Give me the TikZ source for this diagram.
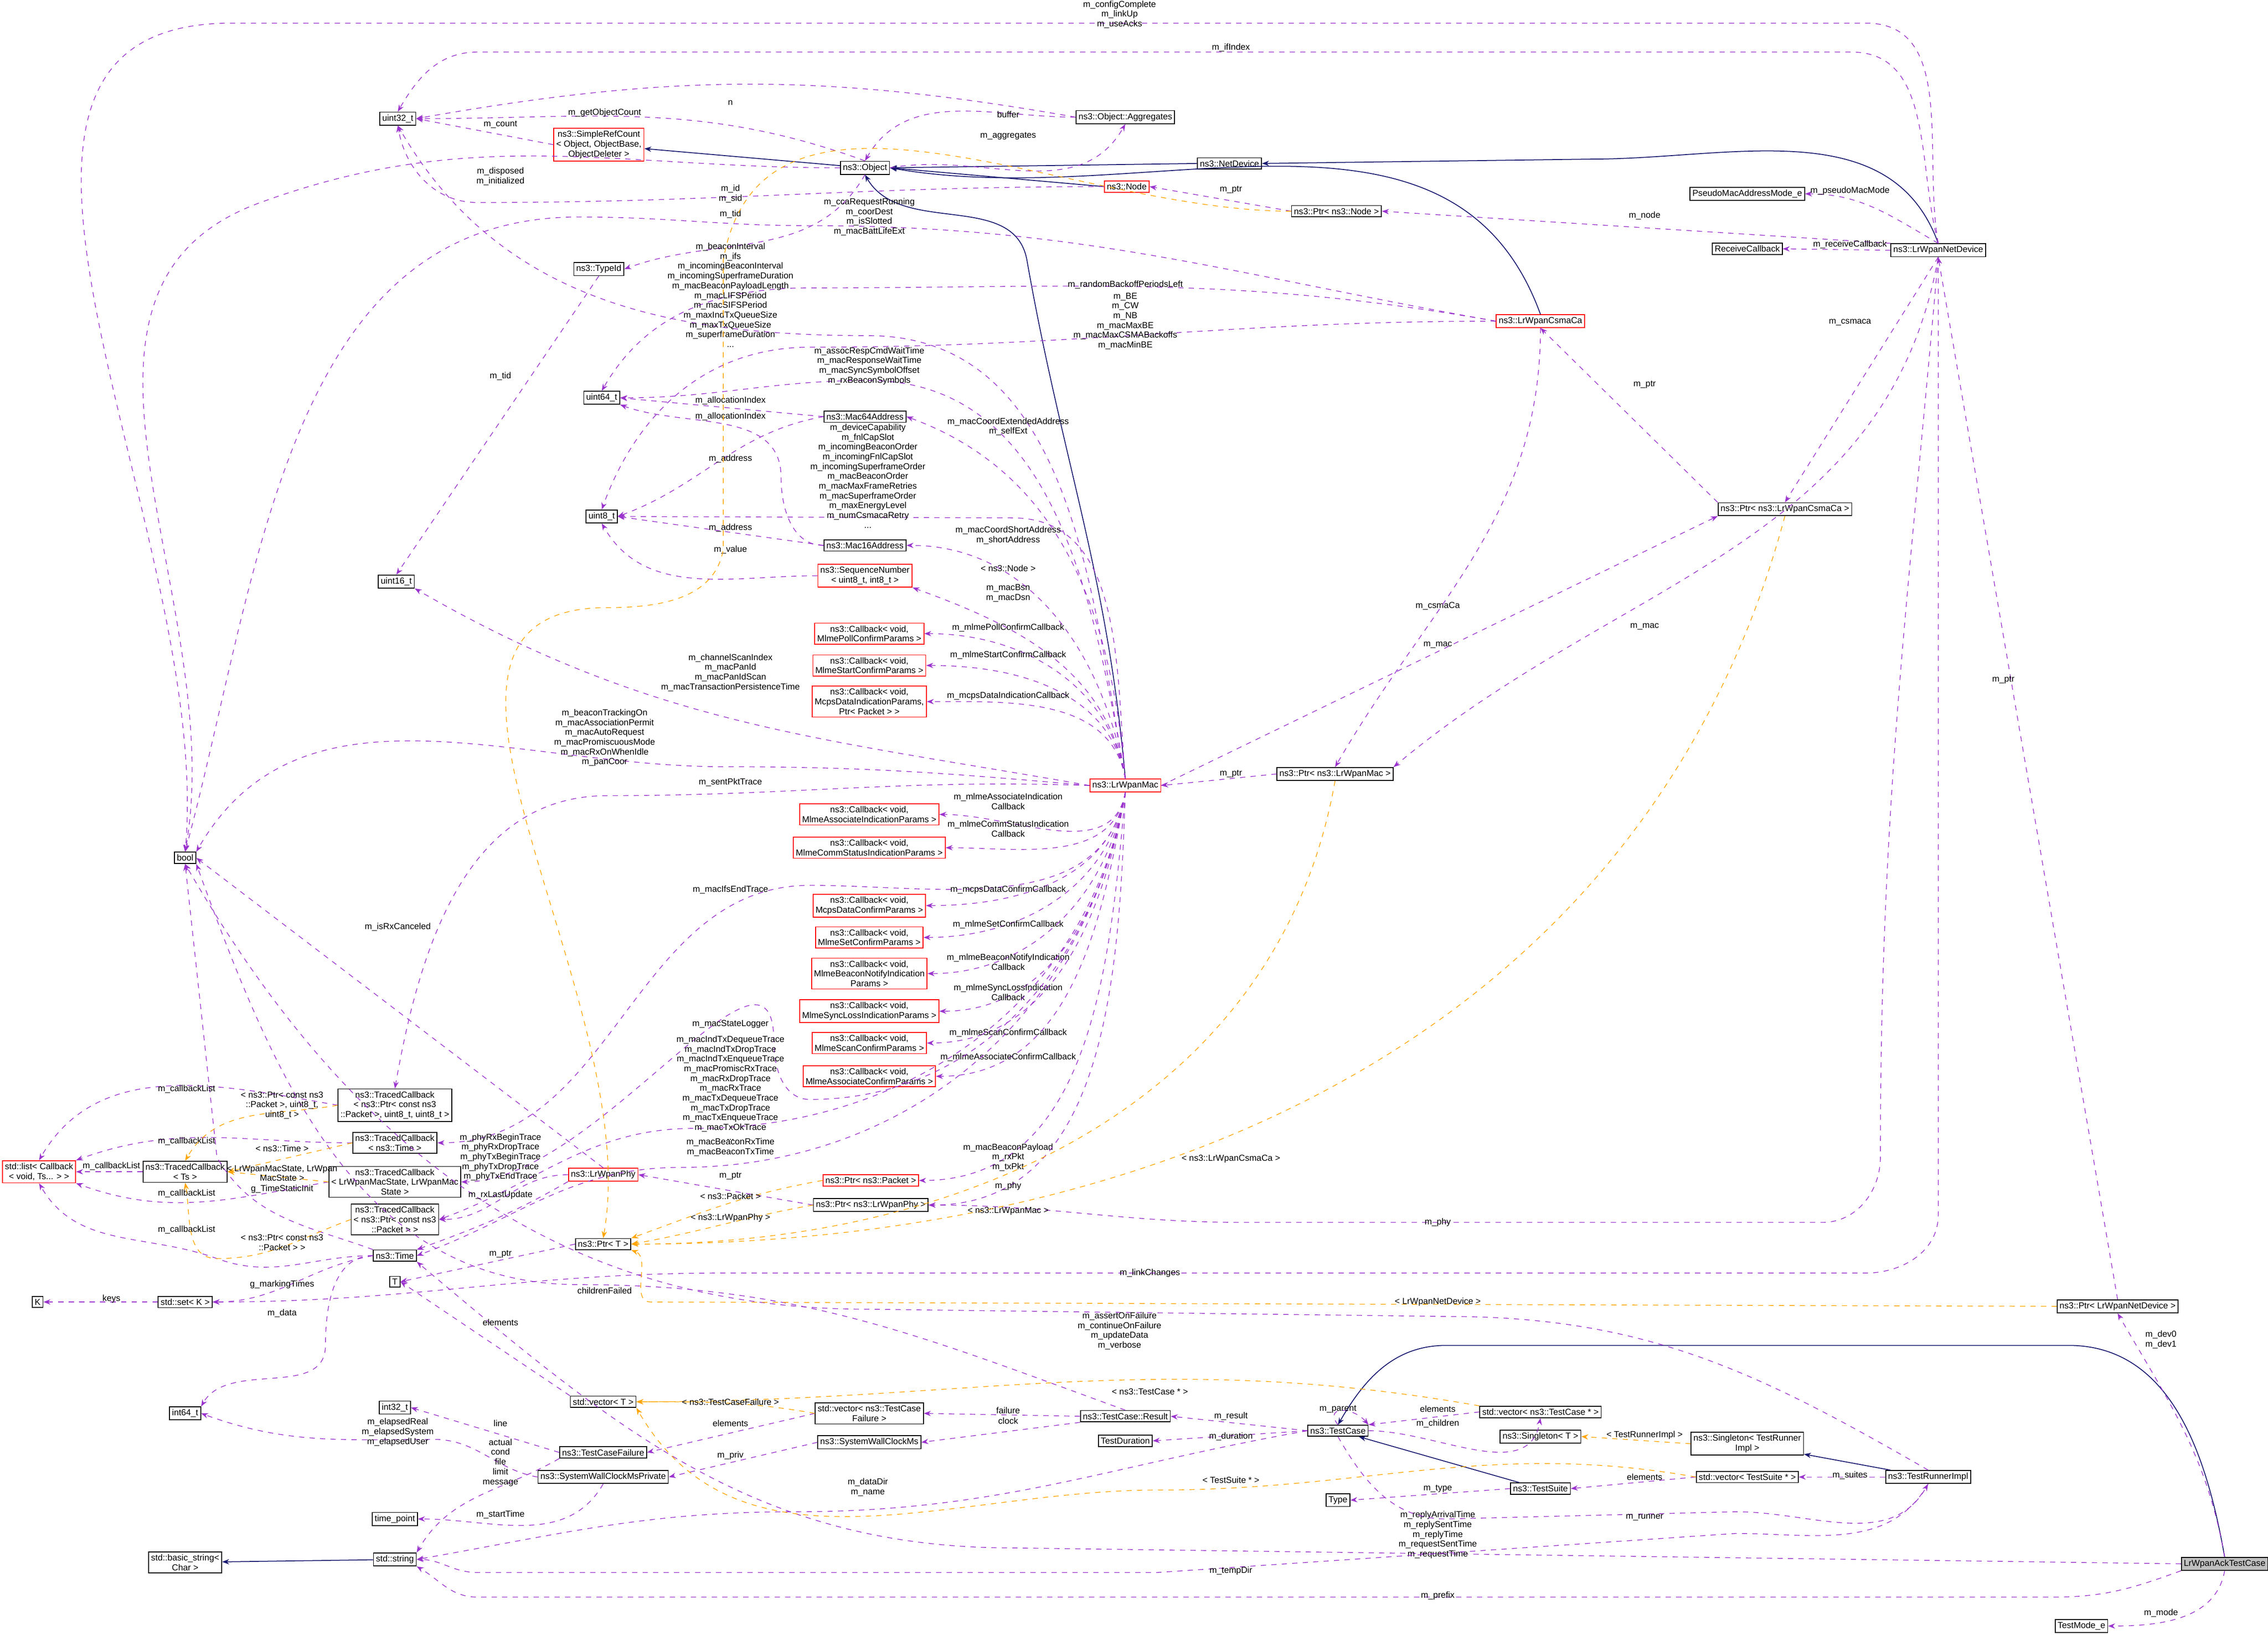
\documentclass[tikz,border=0pt]{standalone}
\usepackage{fontspec}
\setmainfont{Liberation Sans}
\usetikzlibrary{arrows.meta}
\definecolor{pur}{HTML}{9A32CD}
\definecolor{org}{HTML}{FFA500}
\definecolor{nav}{HTML}{191970}
\tikzset{
 bx/.style={draw=black,fill=white,font=\fontsize{5}{5.6}\selectfont,align=center,inner sep=1.4pt,line width=0.5pt},
 rbx/.style={bx,draw=red},
 lb/.style={font=\fontsize{5}{5.6}\selectfont,align=center,inner sep=0.5pt},
 mem/.style={draw=pur,dashed,line width=0.4pt,-{Stealth[length=4pt,width=3pt]}},
 tpl/.style={draw=org,dashed,line width=0.4pt,-{Stealth[length=4pt,width=3pt]}},
 inh/.style={draw=nav,line width=0.5pt,-{Stealth[length=4pt,width=3pt]}}
}
\begin{document}
\begin{tikzpicture}[x=0.0291cm,y=-0.0291cm]
\useasboundingbox (0,0) rectangle (1568,1130);
% nodes
\node[bx] (u32) at (275,82) {uint32\_t};
\node[rbx] (src) at (414,100) {ns3::SimpleRefCount\\< Object, ObjectBase,\\ ObjectDeleter >};
\node[bx] (obj) at (598,116) {ns3::Object};
\node[bx] (agg) at (778,81) {ns3::Object::Aggregates};
\node[bx] (ndev) at (850,113) {ns3::NetDevice};
\node[rbx] (node) at (779,129) {ns3::Node};
\node[bx] (pnode) at (924,146) {ns3::Ptr< ns3::Node >};
\node[bx] (pseudo) at (1208,134) {PseudoMacAddressMode\_e};
\node[bx] (rcb) at (1208,172) {ReceiveCallback};
\node[bx] (lnd) at (1340,173) {ns3::LrWpanNetDevice};
\node[bx] (tid) at (414,186) {ns3::TypeId};
\node[rbx] (csma) at (1065,222) {ns3::LrWpanCsmaCa};
\node[bx] (u64) at (416,275) {uint64\_t};
\node[bx] (m64) at (598,288) {ns3::Mac64Address};
\node[bx] (u8) at (416,357) {uint8\_t};
\node[bx] (m16) at (598,377) {ns3::Mac16Address};
\node[bx] (pcsma) at (1234,352) {ns3::Ptr< ns3::LrWpanCsmaCa >};
\node[rbx] (seq) at (598,398) {ns3::SequenceNumber\\< uint8\_t, int8\_t >};
\node[bx] (u16) at (274,402) {uint16\_t};
\node[rbx] (c1) at (601,438) {ns3::Callback< void,\\ MlmePollConfirmParams >};
\node[rbx] (c2) at (601,460) {ns3::Callback< void,\\ MlmeStartConfirmParams >};
\node[rbx] (c3) at (601,485) {ns3::Callback< void,\\ McpsDataIndicationParams,\\ Ptr< Packet > >};
\node[rbx] (mac) at (778,543) {ns3::LrWpanMac};
\node[bx] (pmac) at (923,535) {ns3::Ptr< ns3::LrWpanMac >};
\node[rbx] (c4) at (601,563) {ns3::Callback< void,\\ MlmeAssociateIndicationParams >};
\node[rbx] (c5) at (601,586) {ns3::Callback< void,\\ MlmeCommStatusIndicationParams >};
\node[bx] (bool) at (128,593) {bool};
\node[rbx] (c6) at (601,626) {ns3::Callback< void,\\ McpsDataConfirmParams >};
\node[rbx] (c7) at (601,648) {ns3::Callback< void,\\ MlmeSetConfirmParams >};
\node[rbx] (c8) at (601,673) {ns3::Callback< void,\\ MlmeBeaconNotifyIndication\\Params >};
\node[rbx] (c9) at (601,699) {ns3::Callback< void,\\ MlmeSyncLossIndicationParams >};
\node[rbx] (c10) at (601,721) {ns3::Callback< void,\\ MlmeScanConfirmParams >};
\node[rbx] (c11) at (601,744) {ns3::Callback< void,\\ MlmeAssociateConfirmParams >};
\node[bx] (tc3) at (273,764) {ns3::TracedCallback\\< ns3::Ptr< const ns3\\::Packet >, uint8\_t, uint8\_t >};
\node[bx] (tctime) at (273,790) {ns3::TracedCallback\\< ns3::Time >};
\node[rbx] (slist) at (27,810) {std::list< Callback\\< void, Ts... > >};
\node[bx] (tcts) at (128,810) {ns3::TracedCallback\\< Ts >};
\node[bx] (tcst) at (273,817) {ns3::TracedCallback\\< LrWpanMacState, LrWpanMac\\State >};
\node[rbx] (phy) at (417,812) {ns3::LrWpanPhy};
\node[rbx] (ppkt) at (602,816) {ns3::Ptr< ns3::Packet >};
\node[bx] (pphy) at (602,833) {ns3::Ptr< ns3::LrWpanPhy >};
\node[bx] (tcpk) at (273,843) {ns3::TracedCallback\\< ns3::Ptr< const ns3\\::Packet > >};
\node[bx] (pt) at (417,860) {ns3::Ptr< T >};
\node[bx] (time) at (273,868) {ns3::Time};
\node[bx] (T) at (273,886) {T};
\node[bx] (K) at (26,900) {K};
\node[bx] (sset) at (128,900) {std::set< K >};
\node[bx] (plnd) at (1464,903) {ns3::Ptr< LrWpanNetDevice >};
\node[bx] (vt) at (417,969) {std::vector< T >};
\node[bx] (vtcf) at (601,977) {std::vector< ns3::TestCase\\Failure >};
\node[bx] (res) at (778,979) {ns3::TestCase::Result};
\node[bx] (i32) at (273,973) {int32\_t};
\node[bx] (i64) at (128,977) {int64\_t};
\node[bx] (tcase) at (925,989) {ns3::TestCase};
\node[bx] (vtc) at (1065,976) {std::vector< ns3::TestCase * >};
\node[bx] (singT) at (1065,993) {ns3::Singleton< T >};
\node[bx] (singR) at (1208,998) {ns3::Singleton< TestRunner\\Impl >};
\node[bx] (tdur) at (778,996) {TestDuration};
\node[bx] (swc) at (601,997) {ns3::SystemWallClockMs};
\node[bx] (tcf) at (417,1004) {ns3::TestCaseFailure};
\node[bx] (swcp) at (417,1021) {ns3::SystemWallClockMsPrivate};
\node[bx] (vts) at (1208,1021) {std::vector< TestSuite * >};
\node[bx] (tri) at (1333,1021) {ns3::TestRunnerImpl};
\node[bx] (tsuite) at (1065,1029) {ns3::TestSuite};
\node[bx] (type) at (925,1037) {Type};
\node[bx] (tpt) at (273,1050) {time\_point};
\node[bx] (bstr) at (128,1080) {std::basic\_string<\\ Char >};
\node[bx] (str) at (273,1078) {std::string};
\node[bx,fill=black!25] (ack) at (1538,1081) {LrWpanAckTestCase};
\node[bx] (tmode) at (1439,1124) {TestMode\_e};

% inheritance
\draw[inh] (obj) -- (src);
\draw[inh] (node.west) -- (obj.east);
\draw[inh] (ndev.west) -- (obj.east);
\draw[inh] (csma.north) to[out=110,in=-10] (obj.east);
\draw[inh] (mac.north) to[out=95,in=-80] (710,180) to[out=100,in=-60] (obj.south);
\draw[inh] (lnd.north) to[out=110,in=0] (1100,110) -- (ndev.east);
\draw[inh] (str) -- (bstr);
\draw[inh] (tsuite) -- (tcase);
\draw[inh] (tri) -- (singR);
\draw[inh] (ack.north) to[out=100,in=0] (1430,930) -- (1000,930) to[out=180,in=60] (tcase.north);

% members (purple)
\draw[mem] (lnd.north) to[out=100,in=0] (1290,16) -- (160,16) to[out=180,in=85] (bool.north);
\draw[mem] (lnd.north) to[out=105,in=0] (1280,36) -- (330,36) to[out=180,in=60] (u32.north);
\node[lb] at (774,10) {m\_configComplete\\m\_linkUp\\m\_useAcks};
\node[lb] at (851,33) {m\_ifIndex};
\draw[mem] (agg.west) to[out=170,in=10] (u32.east); \node[lb] at (505,71) {n};
\draw[mem] (obj.north) to[out=160,in=0] (u32.east); \node[lb] at (418,78) {m\_getObjectCount};
\draw[mem] (src.west) -- (u32.east); \node[lb] at (346,86) {m\_count};
\draw[mem] (agg.west) to[out=180,in=60] (obj.north); \node[lb] at (697,79) {buffer};
\draw[mem] (obj.east) to[out=10,in=-120] (agg.south); \node[lb] at (697,94) {m\_aggregates};
\draw[mem] (obj.west) to[out=180,in=20] (180,140) to[out=-160,in=80] (bool.north); \node[lb] at (346,122) {m\_disposed\\m\_initialized};
\draw[mem] (node.west) to[out=180,in=0] (330,140) to[out=180,in=-80] (u32.south); \node[lb] at (505,134) {m\_id\\m\_sid};
\draw[mem] (obj.south) to[out=-120,in=20] (tid.east);
\draw[mem] (csma.west) to[out=170,in=0] (560,156) to[out=180,in=0] (400,150) to[out=180,in=75] (bool.north);
\node[lb] at (505,148) {m\_tid};
\node[lb] at (601,150) {m\_ccaRequestRunning\\m\_coorDest\\m\_isSlotted\\m\_macBattLifeExt};
\draw[mem] (tid.south) -- (u16.north); \node[lb] at (346,260) {m\_tid};
\draw[mem] (csma.west) to[out=170,in=0] (560,199) to[out=180,in=60] (u64.north); \node[lb] at (778,197) {m\_randomBackoffPeriodsLeft};
\draw[mem] (csma.west) to[out=180,in=0] (560,240) to[out=180,in=70] (u8.north); \node[lb] at (778,222) {m\_BE\\m\_CW\\m\_NB\\m\_macMaxBE\\m\_macMaxCSMABackoffs\\m\_macMinBE};
\draw[mem] (mac.north) to[out=100,in=0] (600,232) to[out=180,in=-60] (u32.south);
\node[lb] at (505,204) {m\_beaconInterval\\m\_ifs\\m\_incomingBeaconInterval\\m\_incomingSuperframeDuration\\m\_macBeaconPayloadLength\\m\_macLIFSPeriod\\m\_macSIFSPeriod\\m\_maxIndTxQueueSize\\m\_maxTxQueueSize\\m\_superframeDuration\\...};
\draw[mem] (mac.north) to[out=100,in=0] (600,263) to[out=180,in=0] (u64.east); \node[lb] at (601,253) {m\_assocRespCmdWaitTime\\m\_macResponseWaitTime\\m\_macSyncSymbolOffset\\m\_rxBeaconSymbols};
\draw[mem] (m64.west) -- (u64.east); \node[lb] at (505,277) {m\_allocationIndex};
\draw[mem] (m16.west) to[out=180,in=-90] (540,330) to[out=90,in=-20] (u64.south east); \node[lb] at (505,288) {m\_allocationIndex};
\draw[mem] (m64.west) to[out=190,in=20] (u8.east); \node[lb] at (505,317) {m\_address};
\draw[mem] (mac.north) to[out=95,in=-20] (m64.east); \node[lb] at (697,295) {m\_macCoordExtendedAddress\\m\_selfExt};
\draw[mem] (mac.north) to[out=95,in=0] (700,358) -- (u8.east);
\node[lb] at (600,329) {m\_deviceCapability\\m\_fnlCapSlot\\m\_incomingBeaconOrder\\m\_incomingFnlCapSlot\\m\_incomingSuperframeOrder\\m\_macBeaconOrder\\m\_macMaxFrameRetries\\m\_macSuperframeOrder\\m\_maxEnergyLevel\\m\_numCsmacaRetry\\...};
\draw[mem] (m16.west) -- (u8.east); \node[lb] at (505,365) {m\_address};
\draw[mem] (seq.west) to[out=180,in=-60] (u8.south); \node[lb] at (505,380) {m\_value};
\draw[mem] (mac.north) to[out=100,in=0] (m16.east); \node[lb] at (697,370) {m\_macCoordShortAddress\\m\_shortAddress};
\draw[mem] (mac.north) to[out=100,in=-20] (seq.south east); \node[lb] at (697,410) {m\_macBsn\\m\_macDsn};
\draw[mem] (mac.west) to[out=170,in=-30] (u16.south east); \node[lb] at (505,465) {m\_channelScanIndex\\m\_macPanId\\m\_macPanIdScan\\m\_macTransactionPersistenceTime};
\draw[mem] (mac.north) to[out=100,in=0] (c1.east); \node[lb] at (697,434) {m\_mlmePollConfirmCallback};
\draw[mem] (mac.north) to[out=100,in=0] (c2.east); \node[lb] at (697,453) {m\_mlmeStartConfirmCallback};
\draw[mem] (mac.north) to[out=100,in=0] (c3.east); \node[lb] at (697,481) {m\_mcpsDataIndicationCallback};
\draw[mem] (mac.west) to[out=175,in=0] (500,530) to[out=180,in=60] (bool.north east); \node[lb] at (418,510) {m\_beaconTrackingOn\\m\_macAssociationPermit\\m\_macAutoRequest\\m\_macPromiscuousMode\\m\_macRxOnWhenIdle\\m\_panCoor};
\draw[mem] (mac.west) to[out=178,in=0] (420,550) to[out=180,in=80] (tc3.north); \node[lb] at (505,541) {m\_sentPktTrace};
\draw[mem] (mac.south) to[out=-100,in=0] (c4.east); \node[lb] at (697,554) {m\_mlmeAssociateIndication\\Callback};
\draw[mem] (mac.south) to[out=-100,in=0] (c5.east); \node[lb] at (697,573) {m\_mlmeCommStatusIndication\\Callback};
\draw[mem] (mac.south) to[out=-100,in=0] (560,612) to[out=180,in=0] (tctime.east); \node[lb] at (505,615) {m\_macIfsEndTrace};
\draw[mem] (mac.south) to[out=-100,in=0] (c6.east); \node[lb] at (697,615) {m\_mcpsDataConfirmCallback};
\draw[mem] (mac.south) to[out=-100,in=0] (c7.east); \node[lb] at (697,639) {m\_mlmeSetConfirmCallback};
\draw[mem] (mac.south) to[out=-100,in=0] (c8.east); \node[lb] at (697,665) {m\_mlmeBeaconNotifyIndication\\Callback};
\draw[mem] (mac.south) to[out=-100,in=0] (c9.east); \node[lb] at (697,686) {m\_mlmeSyncLossIndication\\Callback};
\draw[mem] (mac.south) to[out=-100,in=0] (c10.east); \node[lb] at (697,714) {m\_mlmeScanConfirmCallback};
\draw[mem] (mac.south) to[out=-100,in=0] (c11.east); \node[lb] at (697,731) {m\_mlmeAssociateConfirmCallback};
\draw[mem] (mac.south) to[out=-100,in=0] (560,760) to[out=180,in=-90] (535,720) to[out=90,in=0] (tcst.east); \node[lb] at (505,708) {m\_macStateLogger};
\draw[mem] (mac.south) to[out=-100,in=0] (480,780) to[out=180,in=20] (tcpk.east);
\node[lb] at (505,752) {m\_macIndTxDequeueTrace\\m\_macIndTxDropTrace\\m\_macIndTxEnqueueTrace\\m\_macPromiscRxTrace\\m\_macRxDropTrace\\m\_macRxTrace\\m\_macTxDequeueTrace\\m\_macTxDropTrace\\m\_macTxEnqueueTrace\\m\_macTxOkTrace\\...};
\draw[mem] (mac.south) to[out=-100,in=0] (470,807) to[out=180,in=20] (time.east); \node[lb] at (505,793) {m\_macBeaconRxTime\\m\_macBeaconTxTime};
\draw[mem] (mac.south) to[out=-95,in=0] (ppkt.east); \node[lb] at (697,800) {m\_macBeaconPayload\\m\_rxPkt\\m\_txPkt};
\draw[mem] (mac.south) to[out=-92,in=0] (pphy.east); \node[lb] at (697,820) {m\_phy};
\draw[mem] (mac.east) -- (pcsma.south west); \node[lb] at (994,419) {m\_csmaCa};
\draw[mem] (csma.south) to[out=-90,in=60] (pmac.north); \node[lb] at (994,446) {m\_mac};
\draw[mem] (lnd.south) to[out=-100,in=40] (pmac.north east); \node[lb] at (1137,433) {m\_mac};
\draw[mem] (lnd.south) -- (pcsma.north); \node[lb] at (1279,223) {m\_csmaca};
\draw[mem] (pcsma.north west) -- (csma.south); \node[lb] at (1137,266) {m\_ptr};
\draw[mem] (pmac.west) -- (mac.east); \node[lb] at (851,535) {m\_ptr};
\draw[mem] (pnode.west) -- (node.east); \node[lb] at (851,131) {m\_ptr};
\draw[mem] (lnd.north west) -- (pnode.east); \node[lb] at (1137,149) {m\_node};
\draw[mem] (lnd.north) to[out=150,in=0] (pseudo.east); \node[lb] at (1279,132) {m\_pseudoMacMode};
\draw[mem] (lnd.west) -- (rcb.east); \node[lb] at (1279,169) {m\_receiveCallback};
\draw[mem] (lnd.south) to[out=-95,in=90] (1300,800) to[out=-90,in=0] (1260,845) -- (860,845) to[out=180,in=0] (pphy.east); \node[lb] at (994,845) {m\_phy};
\draw[mem] (lnd.south) to[out=-90,in=90] (1340,840) to[out=-90,in=0] (1290,880) -- (500,880) to[out=180,in=0] (sset.east); \node[lb] at (795,880) {m\_linkChanges};
\draw[mem] (plnd.north) -- (lnd.south); \node[lb] at (1385,470) {m\_ptr};
\draw[mem] (ack.north) to[out=100,in=-60] (plnd.south); \node[lb] at (1494,926) {m\_dev0\\m\_dev1};
\draw[mem] (ack.south) to[out=-100,in=0] (tmode.east); \node[lb] at (1494,1115) {m\_mode};
\draw[mem] (ack.south west) to[out=-160,in=0] (1420,1104) -- (330,1104) to[out=180,in=-30] (str.south east); \node[lb] at (994,1103) {m\_prefix};
\draw[mem] (ack.west) -- (700,1070) to[out=180,in=-40] (time.south east); \node[lb] at (994,1061) {m\_replyArrivalTime\\m\_replySentTime\\m\_replyTime\\m\_requestSentTime\\m\_requestTime};
\draw[mem] (tri.south) to[out=-120,in=0] (1200,1060) -- (800,1087) -- (330,1087) to[out=180,in=0] (str.east); \node[lb] at (851,1086) {m\_tempDir};
\draw[mem] (tcase.west) to[out=190,in=0] (550,1045) to[out=180,in=10] (str.east); \node[lb] at (600,1028) {m\_dataDir\\m\_name};
\draw[mem] (tri.north) to[out=150,in=0] (1000,910) -- (600,905) to[out=180,in=-60] (bool.south); \node[lb] at (774,920) {m\_assertOnFailure\\m\_continueOnFailure\\m\_updateData\\m\_verbose};
\draw[mem] (tcase.north) .. controls (915,972) and (935,972) .. (tcase.north east); \node[lb] at (925,974) {m\_parent};
\draw[mem] (tcase.east) to[out=0,in=-100] (vtc.south); \node[lb] at (994,984) {m\_children};
\draw[mem] (vtc.west) -- (tcase.north east); \node[lb] at (994,974) {elements};
\draw[mem] (tcase.west) -- (res.east); \node[lb] at (851,979) {m\_result};
\draw[mem] (tcase.west) -- (tdur.east); \node[lb] at (851,993) {m\_duration};
\draw[mem] (tcase.south) to[out=-60,in=180] (1000,1050) -- (1200,1045) to[out=0,in=-120] (tri.south); \node[lb] at (1137,1049) {m\_runner};
\draw[mem] (tsuite.west) -- (type.east); \node[lb] at (994,1029) {m\_type};
\draw[mem] (tri.west) -- (vts.east); \node[lb] at (1279,1020) {m\_suites};
\draw[mem] (vts.west) -- (tsuite.east); \node[lb] at (1137,1021) {elements};
\draw[mem] (res.west) -- (vtcf.east); \node[lb] at (697,975) {failure};
\draw[mem] (res.south west) -- (swc.east); \node[lb] at (697,982) {clock};
\draw[mem] (res.north) to[out=160,in=0] (400,888) to[out=180,in=-70] (bool.south east); \node[lb] at (418,892) {childrenFailed};
\draw[mem] (vtcf.west) -- (tcf.east); \node[lb] at (505,984) {elements};
\draw[mem] (swc.west) -- (swcp.east); \node[lb] at (505,1006) {m\_priv};
\draw[mem] (swcp.west) to[out=170,in=0] (300,995) to[out=180,in=-20] (i64.east); \node[lb] at (275,990) {m\_elapsedReal\\m\_elapsedSystem\\m\_elapsedUser};
\draw[mem] (swcp.south) to[out=-120,in=0] (tpt.east); \node[lb] at (346,1047) {m\_startTime};
\draw[mem] (tcf.west) -- (i32.east); \node[lb] at (346,984) {line};
\draw[mem] (tcf.south west) to[out=-150,in=60] (str.north east); \node[lb] at (346,1011) {actual\\cond\\file\\limit\\message};
\draw[mem] (vt.north west) -- (T.east); \node[lb] at (346,914) {elements};
\draw[mem] (pt.west) -- (T.east); \node[lb] at (346,867) {m\_ptr};
\draw[mem] (time.west) to[out=180,in=90] (225,930) to[out=-90,in=60] (i64.north east); \node[lb] at (195,908) {m\_data};
\draw[mem] (time.west) to[out=190,in=0] (sset.east); \node[lb] at (195,888) {g\_markingTimes};
\draw[mem] (sset.west) -- (K.east); \node[lb] at (77,898) {keys};
\draw[mem] (time.north west) to[out=160,in=-60] (150,800) -- (bool.south); \node[lb] at (195,822) {g\_TimeStaticInit};
\draw[mem] (phy.north) -- (bool.east); \node[lb] at (275,641) {m\_isRxCanceled};
\draw[mem] (phy.west) to[out=180,in=0] (tcpk.east); \node[lb] at (346,800) {m\_phyRxBeginTrace\\m\_phyRxDropTrace\\m\_phyTxBeginTrace\\m\_phyTxDropTrace\\m\_phyTxEndTrace};
\draw[mem] (phy.south west) to[out=-150,in=20] (time.north east); \node[lb] at (346,826) {m\_rxLastUpdate};
\draw[mem] (pphy.west) -- (phy.east); \node[lb] at (505,813) {m\_ptr};
\draw[mem] (tc3.west) to[out=170,in=60] (slist.north); \node[lb] at (129,753) {m\_callbackList};
\draw[mem] (tctime.west) to[out=180,in=20] (slist.north east); \node[lb] at (129,789) {m\_callbackList};
\draw[mem] (tcts.west) -- (slist.east); \node[lb] at (77,806) {m\_callbackList};
\draw[mem] (tcst.west) to[out=190,in=-20] (slist.south east); \node[lb] at (129,825) {m\_callbackList};
\draw[mem] (time.west) to[out=180,in=-20] (150,870) to[out=160,in=-60] (slist.south); \node[lb] at (129,850) {m\_callbackList};

% templates (orange)
\draw[tpl] (tc3.west) to[out=190,in=60] (tcts.north); \node[lb] at (195,764) {< ns3::Ptr< const ns3\\::Packet >, uint8\_t,\\ uint8\_t >};
\draw[tpl] (tctime.west) -- (tcts.east); \node[lb] at (195,794) {< ns3::Time >};
\draw[tpl] (tcst.west) -- (tcts.east); \node[lb] at (195,811) {< LrWpanMacState, LrWpan\\MacState >};
\draw[tpl] (tcpk.west) to[out=200,in=0] (150,870) to[out=180,in=-80] (tcts.south); \node[lb] at (195,859) {< ns3::Ptr< const ns3\\::Packet > >};
\draw[tpl] (pnode.west) to[out=180,in=80] (500,180) -- (500,380) to[out=-100,in=0] (420,420) to[out=180,in=80] (pt.north); \node[lb] at (697,393) {< ns3::Node >};
\draw[tpl] (pcsma.south) to[out=-105,in=0] (pt.east); \node[lb] at (851,801) {< ns3::LrWpanCsmaCa >};
\draw[tpl] (pmac.south) to[out=-100,in=0] (pt.east); \node[lb] at (697,837) {< ns3::LrWpanMac >};
\draw[tpl] (ppkt.west) to[out=190,in=20] (pt.north east); \node[lb] at (505,827) {< ns3::Packet >};
\draw[tpl] (pphy.west) to[out=190,in=10] (pt.east); \node[lb] at (505,842) {< ns3::LrWpanPhy >};
\draw[tpl] (plnd.west) -- (450,900) to[out=180,in=-20] (pt.south east); \node[lb] at (994,900) {< LrWpanNetDevice >};
\draw[tpl] (vtc.north west) to[out=170,in=0] (vt.east); \node[lb] at (795,962) {< ns3::TestCase * >};
\draw[tpl] (vtcf.west) to[out=170,in=0] (vt.east); \node[lb] at (505,969) {< ns3::TestCaseFailure >};
\draw[tpl] (vts.west) to[out=170,in=0] (800,1030) to[out=180,in=-60] (vt.south east); \node[lb] at (851,1023) {< TestSuite * >};
\draw[tpl] (singR.west) -- (singT.east); \node[lb] at (1137,992) {< TestRunnerImpl >};
\end{tikzpicture}
\end{document}
